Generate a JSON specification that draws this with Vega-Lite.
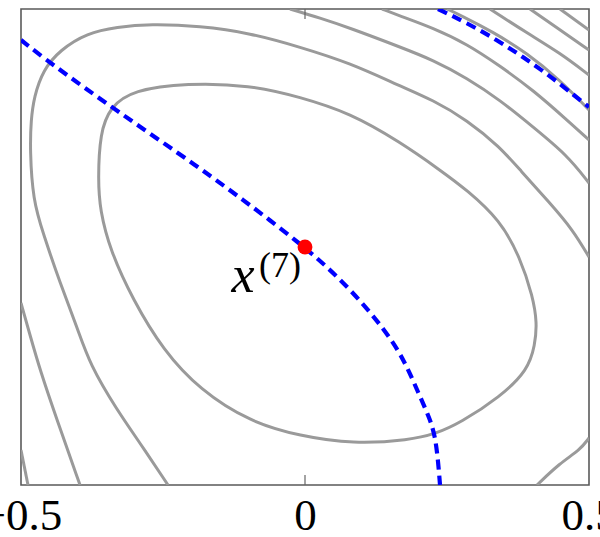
{
  "$schema": "https://vega.github.io/schema/vega-lite/v6.json",
  "width": 568,
  "height": 476,
  "autosize": {"type": "none"},
  "padding": {"left": 21, "top": 9, "right": 11, "bottom": 52},
  "background": "white",
  "config": {"view": {"stroke": "#5a5a5a", "strokeWidth": 1.6}},
  "datasets": {
    "inner": [
      {"x": -0.3644, "y": 0.1408}, {"x": -0.3609, "y": 0.2395}, {"x": -0.3433, "y": 0.2941},
      {"x": -0.3028, "y": 0.3298}, {"x": -0.2077, "y": 0.3445}, {"x": -0.0968, "y": 0.3403},
      {"x": -0.0088, "y": 0.3151}, {"x": 0.0792, "y": 0.2815}, {"x": 0.1673, "y": 0.2206},
      {"x": 0.2377, "y": 0.1618}, {"x": 0.2852, "y": 0.1197}, {"x": 0.3433, "y": 0.0567},
      {"x": 0.3785, "y": -0.021}, {"x": 0.4014, "y": -0.105}, {"x": 0.4085, "y": -0.1597},
      {"x": 0.4049, "y": -0.2059}, {"x": 0.3926, "y": -0.2584}, {"x": 0.3433, "y": -0.3151},
      {"x": 0.2729, "y": -0.3697}, {"x": 0.2289, "y": -0.3929}, {"x": 0.1849, "y": -0.4055},
      {"x": 0.0845, "y": -0.4139}, {"x": -0.0088, "y": -0.3971}, {"x": -0.0968, "y": -0.3676},
      {"x": -0.1849, "y": -0.3004}, {"x": -0.25, "y": -0.2164}, {"x": -0.3028, "y": -0.1113},
      {"x": -0.3433, "y": -0.0063}, {"x": -0.3609, "y": 0.0777}
    ],
    "contours": [
      {"c": "B1", "x": -0.2412, "y": -0.5}, {"c": "B1", "x": -0.2905, "y": -0.4118},
      {"c": "B1", "x": -0.331, "y": -0.3424}, {"c": "B1", "x": -0.3785, "y": -0.2479},
      {"c": "B1", "x": -0.4014, "y": -0.1681}, {"c": "B1", "x": -0.4313, "y": -0.0756},
      {"c": "B1", "x": -0.4613, "y": 0.0294}, {"c": "B1", "x": -0.4789, "y": 0.0987},
      {"c": "B1", "x": -0.4842, "y": 0.2038}, {"c": "B1", "x": -0.4824, "y": 0.2668},
      {"c": "B1", "x": -0.4771, "y": 0.3151}, {"c": "B1", "x": -0.4613, "y": 0.3718},
      {"c": "B1", "x": -0.4313, "y": 0.4139}, {"c": "B1", "x": -0.3838, "y": 0.4496},
      {"c": "B1", "x": -0.331, "y": 0.4622}, {"c": "B1", "x": -0.2729, "y": 0.4685},
      {"c": "B1", "x": -0.1849, "y": 0.4643}, {"c": "B1", "x": -0.0968, "y": 0.4496},
      {"c": "B1", "x": -0.0088, "y": 0.4202}, {"c": "B1", "x": 0.0792, "y": 0.3866},
      {"c": "B1", "x": 0.1673, "y": 0.3382}, {"c": "B1", "x": 0.2254, "y": 0.3088},
      {"c": "B1", "x": 0.2852, "y": 0.2668}, {"c": "B1", "x": 0.3433, "y": 0.2101},
      {"c": "B1", "x": 0.3785, "y": 0.1618}, {"c": "B1", "x": 0.4313, "y": 0.0924},
      {"c": "B1", "x": 0.4718, "y": 0.0357}, {"c": "B1", "x": 0.5, "y": -0.021},
      {"c": "B2", "x": 0.4085, "y": -0.5}, {"c": "B2", "x": 0.4489, "y": -0.4538},
      {"c": "B2", "x": 0.4842, "y": -0.4265}, {"c": "B2", "x": 0.5, "y": -0.4013},
      {"c": "C1", "x": -0.0264, "y": 0.5}, {"c": "C1", "x": 0.0264, "y": 0.4811},
      {"c": "C1", "x": 0.0792, "y": 0.4601}, {"c": "C1", "x": 0.1673, "y": 0.4202},
      {"c": "C1", "x": 0.2254, "y": 0.3929}, {"c": "C1", "x": 0.2852, "y": 0.355},
      {"c": "C1", "x": 0.3433, "y": 0.3088}, {"c": "C1", "x": 0.4014, "y": 0.2521},
      {"c": "C1", "x": 0.4613, "y": 0.1933}, {"c": "C1", "x": 0.5, "y": 0.1345},
      {"c": "C2", "x": -0.5, "y": -0.1176}, {"c": "C2", "x": -0.4842, "y": -0.1849},
      {"c": "C2", "x": -0.4665, "y": -0.2584}, {"c": "C2", "x": -0.4366, "y": -0.3634},
      {"c": "C2", "x": -0.3961, "y": -0.5},
      {"c": "D1", "x": 0.1356, "y": 0.5}, {"c": "D1", "x": 0.1673, "y": 0.4853},
      {"c": "D1", "x": 0.2254, "y": 0.4601}, {"c": "D1", "x": 0.2852, "y": 0.4265},
      {"c": "D1", "x": 0.3433, "y": 0.3803}, {"c": "D1", "x": 0.4014, "y": 0.3298},
      {"c": "D1", "x": 0.4613, "y": 0.2668}, {"c": "D1", "x": 0.5, "y": 0.2248},
      {"c": "D2", "x": -0.5, "y": -0.4265}, {"c": "D2", "x": -0.4877, "y": -0.5},
      {"c": "E0", "x": 0.25, "y": 0.5}, {"c": "E0", "x": 0.2729, "y": 0.4874},
      {"c": "E0", "x": 0.331, "y": 0.4517}, {"c": "E0", "x": 0.3908, "y": 0.4076},
      {"c": "E0", "x": 0.4489, "y": 0.3508}, {"c": "E0", "x": 0.5, "y": 0.2878},
      {"c": "E1", "x": 0.3257, "y": 0.5}, {"c": "E1", "x": 0.3908, "y": 0.4496},
      {"c": "E1", "x": 0.4489, "y": 0.4076}, {"c": "E1", "x": 0.5, "y": 0.3613},
      {"c": "E2", "x": 0.3961, "y": 0.5}, {"c": "E2", "x": 0.4489, "y": 0.4559},
      {"c": "E2", "x": 0.5, "y": 0.4139},
      {"c": "E3", "x": 0.4489, "y": 0.5}, {"c": "E3", "x": 0.5, "y": 0.4559}
    ],
    "paths": [
      {"s": "main", "x": -0.5, "y": 0.4349}, {"s": "main", "x": -0.4489, "y": 0.3866},
      {"s": "main", "x": -0.331, "y": 0.2857}, {"s": "main", "x": -0.1849, "y": 0.166},
      {"s": "main", "x": -0.0968, "y": 0.0882}, {"s": "main", "x": 0.0, "y": 0.0},
      {"s": "main", "x": 0.0739, "y": -0.0798}, {"s": "main", "x": 0.1444, "y": -0.1786},
      {"s": "main", "x": 0.1761, "y": -0.2416}, {"s": "main", "x": 0.1989, "y": -0.3046},
      {"s": "main", "x": 0.2201, "y": -0.3613}, {"s": "main", "x": 0.2289, "y": -0.3971},
      {"s": "main", "x": 0.2342, "y": -0.4475}, {"s": "main", "x": 0.2377, "y": -0.5},
      {"s": "upper", "x": 0.2342, "y": 0.5}, {"s": "upper", "x": 0.2852, "y": 0.4706},
      {"s": "upper", "x": 0.338, "y": 0.4349}, {"s": "upper", "x": 0.3838, "y": 0.3992},
      {"s": "upper", "x": 0.4313, "y": 0.3592}, {"s": "upper", "x": 0.4754, "y": 0.3172},
      {"s": "upper", "x": 0.5, "y": 0.2941}
    ],
    "iterate": [{"x": 0, "y": 0}],
    "ticks": [{"x": 0, "y": -0.5, "y2": -0.479}, {"x": 0, "y": 0.5, "y2": 0.479}],
    "base": [{"t": "x", "x": -0.1092, "y": -0.0945}],
    "sup": [{"t": "(7)", "x": -0.081, "y": -0.063}]
  },
  "encoding": {
    "x": {
      "field": "x",
      "type": "quantitative",
      "scale": {"domain": [-0.5, 0.5], "nice": false, "zero": false},
      "axis": {
        "title": null,
        "values": [-0.5, 0, 0.5],
        "format": "~g",
        "domain": false,
        "ticks": false,
        "grid": false,
        "labelFont": "Liberation Serif",
        "labelFontSize": 45,
        "labelColor": "#000000",
        "labelPadding": 8,
        "labelFlush": false,
        "labelBound": false,
        "labelOverlap": false
      }
    },
    "y": {
      "field": "y",
      "type": "quantitative",
      "scale": {"domain": [-0.5, 0.5], "nice": false, "zero": false},
      "axis": null
    }
  },
  "layer": [
    {
      "data": {"name": "inner"},
      "mark": {"type": "line", "interpolate": "basis-closed", "color": "#9a9a9a", "strokeWidth": 3, "clip": true},
      "encoding": {"order": {"value": null}}
    },
    {
      "data": {"name": "contours"},
      "mark": {"type": "line", "interpolate": "basis", "color": "#9a9a9a", "strokeWidth": 3, "clip": true},
      "encoding": {"detail": {"field": "c", "type": "nominal"}, "order": {"value": null}}
    },
    {
      "data": {"name": "ticks"},
      "mark": {"type": "rule", "color": "#666666", "strokeWidth": 1.2},
      "encoding": {"y2": {"field": "y2"}}
    },
    {
      "data": {"name": "paths"},
      "mark": {"type": "line", "interpolate": "basis", "color": "#0000ff", "strokeWidth": 4.2, "strokeDash": [10, 6], "clip": true},
      "encoding": {"detail": {"field": "s", "type": "nominal"}, "order": {"value": null}}
    },
    {
      "data": {"name": "iterate"},
      "mark": {"type": "point", "filled": true, "color": "#ff0000", "size": 220, "opacity": 1, "shape": "circle"},
      "encoding": {}
    },
    {
      "data": {"name": "base"},
      "mark": {"type": "text", "font": "Liberation Serif", "fontStyle": "italic", "fontSize": 52, "align": "center", "baseline": "alphabetic", "color": "#000000"},
      "encoding": {"text": {"field": "t"}}
    },
    {
      "data": {"name": "sup"},
      "mark": {"type": "text", "font": "Liberation Serif", "fontSize": 36, "align": "left", "baseline": "alphabetic", "color": "#000000"},
      "encoding": {"text": {"field": "t"}}
    }
  ]
}
